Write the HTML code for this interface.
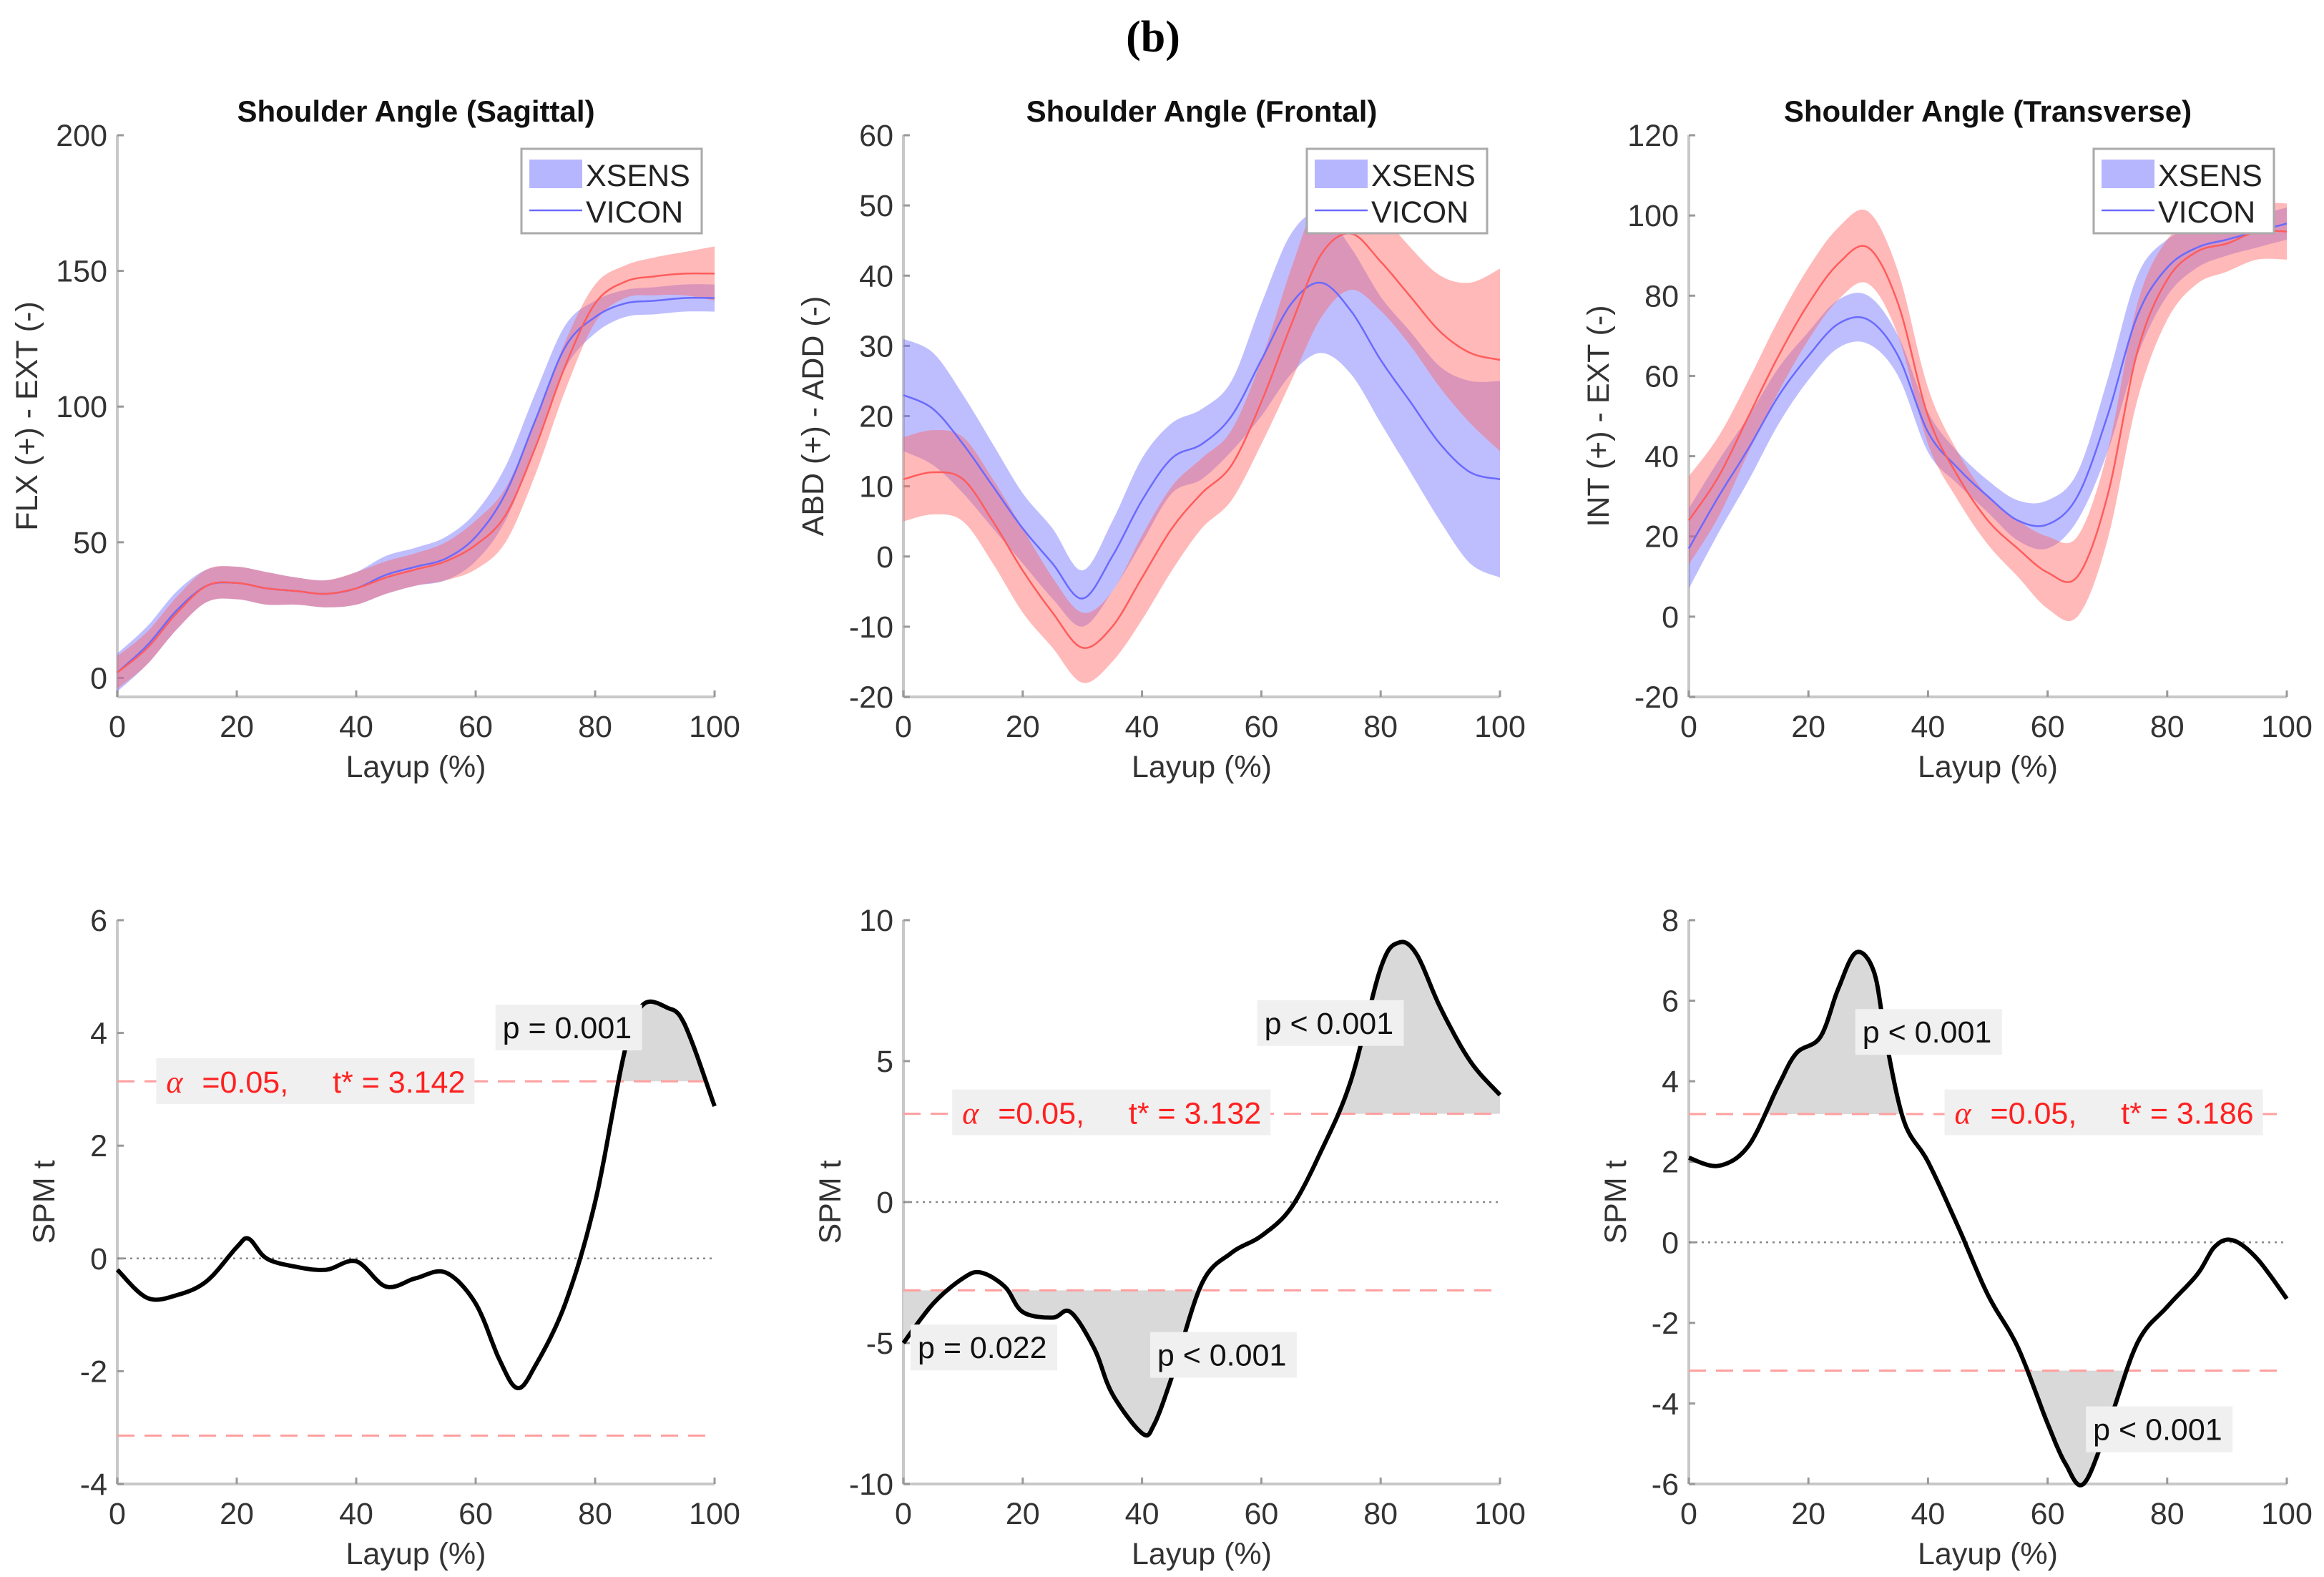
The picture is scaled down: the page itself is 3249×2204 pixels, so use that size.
<!DOCTYPE html>
<html><head><meta charset="utf-8">
<style>
html,body{margin:0;padding:0;background:#fff;}
svg{display:block;font-family:"Liberation Sans",sans-serif;}
</style></head>
<body>
<svg id="fig" width="3249" height="2204" viewBox="0 0 3249 2204" xmlns="http://www.w3.org/2000/svg">
<text x="1612" y="72" font-family="Liberation Serif,serif" font-weight="bold" font-size="62" text-anchor="middle">(b)</text>
</svg>
<script>
// ---------- DATA ----------
const xs = [0,5,10,15,20,25,30,35,40,45,50,55,60,65,70,75,80,85,90,95,100];
// Sagittal
const sagXsensMean = [2,12,25,34,35,33,32,31,33,38,41,44,52,68,95,122,133,138,139,140,140];
const sagXsensSd   = [7,7,7,6,6,6,5,5,6,7,7,8,9,10,10,8,6,5,5,5,5];
const sagViconMean = [2,11,24,34,35,33,32,31,33,37,40,43,49,60,85,115,138,146,148,149,149];
const sagViconSd   = [6,6,6,6,6,6,5,5,6,6,6,7,9,10,10,9,7,6,7,8,10];
// Frontal
const froXsensMean = [23,21,16,10,4,-1,-6,0,8,14,16,20,28,36,39,35,28,22,16,12,11];
const froXsensSd   = [8,8,7,6,5,5,4,5,6,5,5,5,8,10,10,9,9,10,11,13,14];
const froViconMean = [11,12,11,5,-2,-8,-13,-10,-3,4,9,13,22,33,43,46,42,37,32,29,28];
const froViconSd   = [6,6,6,6,6,5,5,5,6,6,5,5,6,8,9,8,7,7,8,10,13];
// Transverse
const traXsensMean = [17,30,42,55,65,73,74,65,46,37,30,24,23,30,50,75,87,92,94,96,98];
const traXsensSd   = [10,9,8,7,6,6,6,5,5,4,4,5,6,6,9,10,7,5,4,4,4];
const traViconMean = [24,35,50,65,78,88,92,78,50,35,24,17,11,10,30,66,84,91,93,96,96];
const traViconSd   = [11,10,9,9,9,9,9,8,7,6,6,7,9,10,11,12,10,8,7,7,7];
// SPM
const spm1X = [0,5,10,15,20,22,25,30,35,40,45,50,55,60,64,67,70,75,80,85,88,92,95,100];
const spm1T = [-0.2,-0.7,-0.65,-0.4,0.2,0.35,0,-0.15,-0.2,-0.05,-0.5,-0.35,-0.25,-0.8,-1.8,-2.3,-1.9,-0.8,1.0,3.7,4.5,4.45,4.15,2.7];
const spm2X = [0,5,10,13,17,20,25,28,32,35,40,42,45,50,55,60,65,70,75,80,83,86,90,95,100];
const spm2T = [-5,-3.6,-2.7,-2.5,-3,-3.9,-4.1,-3.9,-5.2,-6.8,-8.2,-7.9,-6.2,-2.9,-1.8,-1.2,-0.2,1.8,4.3,8.3,9.2,8.8,6.9,5.0,3.8];
const spm3X = [0,5,10,15,18,22,25,28,31,33,36,40,45,50,55,60,63,66,70,75,80,85,88,91,95,100];
const spm3T = [2.1,1.9,2.4,3.9,4.7,5.1,6.3,7.2,6.7,5.0,3.0,2.0,0.4,-1.3,-2.6,-4.5,-5.5,-6.0,-4.6,-2.5,-1.6,-0.8,-0.1,0.05,-0.4,-1.4];
const thresholds = [3.142, 3.132, 3.186];
const threshLabels = ["3.142","3.132","3.186"];

// ---------- DRAW ----------
const NS = "http://www.w3.org/2000/svg";
const svg = document.getElementById('fig');
const FS = 43;
function el(tag, attrs, parent){const e=document.createElementNS(NS,tag);for(const k in attrs)e.setAttribute(k,attrs[k]);(parent||svg).appendChild(e);return e;}
function smooth(X,Y,n){
  const out=[];
  for(let i=0;i<X.length-1;i++){
    const x0=X[Math.max(i-1,0)],x1=X[i],x2=X[i+1],x3=X[Math.min(i+2,X.length-1)];
    const y0=Y[Math.max(i-1,0)],y1=Y[i],y2=Y[i+1],y3=Y[Math.min(i+2,Y.length-1)];
    for(let k=0;k<n;k++){const t=k/n,t2=t*t,t3=t2*t;
      const f=(p0,p1,p2,p3)=>0.5*((2*p1)+(-p0+p2)*t+(2*p0-5*p1+4*p2-p3)*t2+(-p0+3*p1-3*p2+p3)*t3);
      out.push([f(x0,x1,x2,x3),f(y0,y1,y2,y3)]);}
  }
  out.push([X[X.length-1],Y[Y.length-1]]);return out;
}
const cols=[[164,999],[1263,2097],[2361,3197]];
const topY=[189,974], botY=[1286,2074];
function axes(i,yr,ticks,yLab,row,title){
  const [x0,x1]=cols[i];const [y0,y1]=row?botY:topY;
  const sx=v=>x0+(v/100)*(x1-x0);const sy=v=>y1-(v-yr[0])/(yr[1]-yr[0])*(y1-y0);
  const g=el('g',{});
  
  
  el('line',{x1:x0,y1:y0,x2:x0,y2:y1,stroke:'#c8c8c8','stroke-width':4},g);
  el('line',{x1:x0,y1:y1,x2:x1,y2:y1,stroke:'#c8c8c8','stroke-width':4},g);
  [0,20,40,60,80,100].forEach(v=>{
    el('line',{x1:sx(v),y1:y1,x2:sx(v),y2:y1-9,stroke:'#999','stroke-width':3},g);
    const t=el('text',{x:sx(v),y:y1+56,'font-size':FS,fill:'#333','text-anchor':'middle'},g);t.textContent=v;
    
  });
  ticks.forEach(v=>{
    el('line',{x1:x0,y1:sy(v),x2:x0+9,y2:sy(v),stroke:'#999','stroke-width':3},g);
    const t=el('text',{x:x0-14,y:sy(v)+15,'font-size':FS,fill:'#333','text-anchor':'end'},g);t.textContent=v;
    
  });
  const xl=el('text',{x:(x0+x1)/2,y:y1+112,'font-size':FS,fill:'#333','text-anchor':'middle'},g);xl.textContent='Layup (%)';
  
  const lx=row?x0-88:x0-112;
  const yl=el('text',{x:lx,y:(y0+y1)/2,'font-size':FS,fill:'#333','text-anchor':'middle',transform:`rotate(-90 ${lx} ${(y0+y1)/2})`},g);yl.textContent=yLab;
  
  if(title){const tt=el('text',{x:(x0+x1)/2,y:170,'font-size':42,'font-weight':'bold',fill:'#111','text-anchor':'middle'},g);tt.textContent=title;
    }
  return {sx,sy,g,x0,x1,y0,y1};
}
function band(ax,mean,sd,fill){
  const up=smooth(xs,mean.map((m,j)=>m+sd[j]),8), lo=smooth(xs,mean.map((m,j)=>m-sd[j]),8).reverse();
  const d='M'+up.concat(lo).map(p=>ax.sx(p[0]).toFixed(1)+','+ax.sy(p[1]).toFixed(1)).join('L')+'Z';
  return el('path',{d,fill},ax.g);
}
function line(ax,X,Y,stroke,w){
  const pts=smooth(X,Y,10);
  return el('path',{d:'M'+pts.map(p=>ax.sx(p[0]).toFixed(1)+','+ax.sy(p[1]).toFixed(1)).join('L'),fill:'none',stroke,'stroke-width':w,'stroke-linejoin':'round'},ax.g);
}
const angle=[
 {yr:[-7,200],ticks:[0,50,100,150,200],lab:'FLX (+) - EXT (-)',title:'Shoulder Angle (Sagittal)',xm:sagXsensMean,xsd:sagXsensSd,vm:sagViconMean,vsd:sagViconSd},
 {yr:[-20,60],ticks:[-20,-10,0,10,20,30,40,50,60],lab:'ABD (+) - ADD (-)',title:'Shoulder Angle (Frontal)',xm:froXsensMean,xsd:froXsensSd,vm:froViconMean,vsd:froViconSd},
 {yr:[-20,120],ticks:[-20,0,20,40,60,80,100,120],lab:'INT (+) - EXT (-)',title:'Shoulder Angle (Transverse)',xm:traXsensMean,xsd:traXsensSd,vm:traViconMean,vsd:traViconSd}];
angle.forEach((p,i)=>{
  const ax=axes(i,p.yr,p.ticks,p.lab,0,p.title);
  const b1=band(ax,p.xm,p.xsd,'rgba(110,110,255,0.45)');
  
  const b2=band(ax,p.vm,p.vsd,'rgba(255,100,100,0.45)');
  
  const l1=line(ax,xs,p.xm,'#6a6aff',2.5);
  
  const l2=line(ax,xs,p.vm,'#ff5c5c',2.5);
  
  const lx=ax.x1-270, ly=208;
  const lg=el('g',{},ax.g);
  
  el('rect',{x:lx,y:ly,width:252,height:118,fill:'#fff',stroke:'#aaa','stroke-width':3},lg);
  el('rect',{x:lx+11,y:ly+15,width:74,height:40,fill:'rgba(110,110,255,0.5)'},lg);
  const t1=el('text',{x:lx+90,y:ly+52,'font-size':FS,fill:'#222'},lg);t1.textContent='XSENS';
  
  el('line',{x1:lx+11,y1:ly+86,x2:lx+85,y2:ly+86,stroke:'#6a6aff','stroke-width':2.5},lg);
  const t2=el('text',{x:lx+90,y:ly+103,'font-size':FS,fill:'#222'},lg);t2.textContent='VICON';
  
});
const spm=[
 {yr:[-4,6],ticks:[-4,-2,0,2,4,6],X:spm1X,T:spm1T,alpha:[105,711],labels:[['p = 0.001',333,675]]},
 {yr:[-10,10],ticks:[-10,-5,0,5,10],X:spm2X,T:spm2T,alpha:[640,732],labels:[['p < 0.001',845,672],['p = 0.022',612,890],['p < 0.001',773,895]]},
 {yr:[-6,8],ticks:[-6,-4,-2,0,2,4,6,8],X:spm3X,T:spm3T,alpha:[1307,732],labels:[['p < 0.001',1247,678],['p < 0.001',1402,945]]}];
spm.forEach((p,i)=>{
  const ax=axes(i,p.yr,p.ticks,'SPM t',1,null);
  const th=thresholds[i];
  const pts=smooth(p.X,p.T,10);
  [1,-1].forEach(sgn=>{
    const up=pts.map(q=>[q[0], sgn>0?Math.max(q[1],th):Math.min(q[1],-th)]);
    const d='M'+ax.sx(0)+','+ax.sy(sgn*th)+'L'+up.map(q=>ax.sx(q[0]).toFixed(1)+','+ax.sy(q[1]).toFixed(1)).join('L')+'L'+ax.sx(100)+','+ax.sy(sgn*th)+'Z';
    const c=el('path',{d,fill:'#d9d9d9'},ax.g);
    
  });
  const z=el('line',{x1:ax.x0,y1:ax.sy(0),x2:ax.x1,y2:ax.sy(0),stroke:'#888','stroke-width':2.5,'stroke-dasharray':'3 6'},ax.g);
  
  [th,-th].forEach(v=>{
    const l=el('line',{x1:ax.x0,y1:ax.sy(v),x2:ax.x1,y2:ax.sy(v),stroke:'#ff9f9f','stroke-width':3,'stroke-dasharray':'24 14'},ax.g);
    
  });
  const cl=line(ax,p.X,p.T,'#000',6);
  
  const ab=el('g',{},ax.g);
  
  const ax0=p.alpha[0]*2.08, ay0=p.alpha[1]*2.08;
  el('rect',{x:ax0,y:ay0,width:445,height:64,fill:'#f0f0f0'},ab);
  const a1=el('text',{x:ax0+14,y:ay0+48,'font-size':44,fill:'#ff2020','font-family':'Liberation Serif,serif','font-style':'italic'},ab);a1.textContent='α';
  const a2=el('text',{x:ax0+64,y:ay0+48,'font-size':FS,fill:'#ff2020'},ab);a2.textContent='=0.05,';
  const a3=el('text',{x:ax0+432,y:ay0+48,'font-size':FS,fill:'#ff2020','text-anchor':'end'},ab);a3.textContent='t* = '+threshLabels[i];
  p.labels.forEach(L=>{
    const lg=el('g',{},ax.g);
    
    el('rect',{x:L[1]*2.08,y:L[2]*2.08,width:205,height:64,fill:'#f0f0f0'},lg);
    const t=el('text',{x:L[1]*2.08+10,y:L[2]*2.08+47,'font-size':FS,fill:'#111'},lg);t.textContent=L[0];
  });
});
</script>
</body></html>
